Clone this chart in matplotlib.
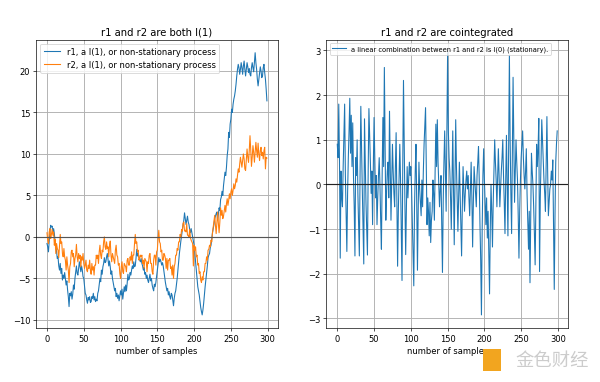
import matplotlib.pyplot as plt
from matplotlib.patches import Rectangle

# values (300 samples each)
r1 = [
    -0.8, -1.2, -1.8, -0.5, 0.6, 1.4, 1.2, 1.3, 0.6, 1.0, 0.4, -0.6, -1.0, -1.8, -2.6, -2.4, -3.5, -4.0, -3.2, -4.4,
    -3.8, -5.2, -4.6, -5.0, -4.3, -5.0, -5.8, -5.3, -6.4, -7.2, -8.4, -6.8, -7.1, -6.6, -7.5, -6.9, -5.8, -6.3, -5.0, -4.2,
    -3.5, -4.4, -4.6, -3.8, -3.0, -3.6, -4.2, -3.5, -4.0, -4.8, -5.0, -5.9, -6.8, -7.0, -7.6, -8.0, -7.3, -7.6, -7.2, -7.9,
    -7.8, -7.2, -7.4, -6.8, -7.6, -7.2, -7.8, -7.5, -7.7, -6.8, -6.5, -5.8, -5.0, -5.4, -4.0, -4.5, -3.6, -3.2, -2.5, -3.1,
    -3.0, -2.4, -2.0, -2.8, -3.5, -2.9, -3.6, -4.5, -4.1, -5.0, -5.5, -6.0, -6.5, -6.2, -7.2, -6.8, -7.4, -7.0, -7.7, -7.1,
    -6.5, -7.0, -6.3, -7.5, -6.8, -6.0, -6.6, -5.8, -6.5, -5.6, -4.5, -5.2, -5.0, -4.3, -4.6, -4.0, -3.5, -3.8, -3.0, -3.6,
    -3.5, -2.6, -1.5, -2.3, -2.0, -2.4, -2.8, -3.0, -2.6, -3.2, -3.5, -4.0, -3.7, -4.5, -4.3, -5.0, -4.6, -5.2, -5.5, -5.0,
    -4.5, -5.3, -5.0, -5.8, -6.2, -6.5, -5.7, -6.0, -5.5, -4.8, -4.0, -3.3, -2.5, -3.0, -2.7, -3.0, -3.4, -3.1, -3.5, -4.2,
    -5.0, -5.5, -6.0, -6.5, -6.2, -7.0, -6.6, -7.2, -7.5, -6.8, -7.0, -7.6, -8.3, -7.4, -6.8, -6.5, -5.8, -5.0, -4.0, -3.0,
    -2.0, -1.2, -0.5, 0.2, 0.8, 1.5, 2.0, 2.9, 2.2, 1.5, 2.0, 2.5, 1.8, 1.5, 0.9, 0.5, 1.0, 0.5, 0.0, -0.5,
    -1.0, -2.0, -3.0, -4.0, -5.0, -6.0, -6.5, -7.0, -7.8, -8.5, -9.0, -9.4, -8.8, -8.0, -7.0, -6.0, -5.2, -4.5, -3.5, -2.5,
    -2.2, -2.0, -1.3, -1.0, -0.2, 0.5, 1.0, 1.5, 2.2, 2.5, 2.8, 3.0, 2.0, 2.7, 3.5, 3.2, 4.5, 4.8, 5.5, 5.0,
    6.2, 7.0, 7.8, 7.4, 8.4, 9.8, 10.6, 12.6, 12.0, 13.6, 14.2, 15.4, 15.0, 16.0, 16.6, 17.0, 17.6, 18.4, 19.4, 20.2,
    20.8, 20.4, 19.6, 20.2, 21.0, 20.4, 19.6, 20.6, 21.2, 20.2, 19.4, 20.2, 21.0, 20.5, 19.8, 20.3, 19.6, 19.4, 20.4, 21.0,
    20.4, 19.9, 21.0, 22.2, 21.0, 20.2, 19.0, 18.2, 19.0, 19.8, 20.5, 20.0, 19.2, 19.4, 20.4, 20.8, 19.8, 19.0, 17.8, 16.4,
]

r2 = [
    0.5, -0.4, -0.8, 0.6, 1.0, -0.2, 0.3, 0.9, 0.2, 0.6, -1.0, -0.3, -2.0, -0.8, -1.4, -1.6, -2.5, -1.0, 0.3, -0.8,
    -0.6, -2.0, -2.4, -1.4, -2.4, -2.8, -4.0, -2.4, -3.4, -4.0, -5.5, -3.6, -3.2, -1.8, -1.6, -2.4, -2.0, -3.6, -2.6, -2.2,
    -0.9, -2.4, -3.0, -2.0, -2.6, -2.2, -3.6, -2.4, -2.8, -2.0, -3.2, -3.8, -3.4, -2.8, -4.0, -4.2, -3.4, -3.8, -2.8, -4.0,
    -4.5, -3.2, -4.0, -3.6, -4.6, -3.4, -3.4, -2.2, -2.6, -2.2, -3.2, -1.8, -1.0, -2.2, -2.6, -1.6, -1.8, -0.6, 0.0, -1.2,
    -1.5, -0.6, -1.4, -1.2, -2.4, -1.0, -0.5, -2.2, -3.0, -2.0, -2.4, -2.8, -3.2, -1.6, -1.0, -2.2, -2.4, -3.4, -3.2, -4.4,
    -5.0, -3.6, -3.0, -4.2, -4.4, -3.2, -3.4, -3.6, -4.2, -2.8, -2.6, -3.4, -3.4, -2.4, -2.8, -1.8, -3.2, -2.2, -2.2, -0.8,
    0.3, -0.8, -0.6, -1.8, -1.6, -2.8, -2.6, -2.2, -2.4, -2.2, -3.2, -2.8, -3.8, -2.6, -2.8, -3.0, -4.2, -3.0, -3.2, -2.2,
    -2.0, -3.2, -3.2, -4.2, -4.5, -2.8, -2.2, -2.2, -3.4, -1.8, -1.6, -0.2, 0.8, -0.6, -0.8, -1.8, -1.6, -2.8, -2.8, -2.0,
    -2.2, -2.6, -3.8, -2.6, -4.0, -2.8, -2.8, -2.6, -3.8, -3.6, -4.6, -3.4, -5.0, -3.6, -3.2, -2.2, -2.2, -1.4, -1.6, -0.6,
    -0.6, 0.3, 0.0, 0.9, 0.7, 1.6, 1.8, 0.7, 0.8, 0.6, 1.6, 0.2, 0.2, 0.0, 0.9, -0.1, -0.4, -0.6, -0.8, -3.5,
    -1.0, -1.6, -1.2, -2.4, -2.2, -3.4, -3.2, -4.4, -4.2, -5.2, -5.5, -4.8, -5.2, -4.2, -4.2, -3.2, -3.2, -2.4, -2.8, -1.6,
    -1.5, -1.0, -1.2, -0.4, -0.6, 0.5, 1.2, 1.8, 2.6, 1.4, 0.4, 1.8, 3.0, 1.6, 0.5, 1.8, 3.5, 2.6, 3.2, 2.2,
    2.5, 3.2, 3.8, 3.0, 4.0, 4.6, 3.8, 4.4, 5.2, 4.6, 5.4, 5.8, 5.0, 5.6, 6.4, 5.8, 6.2, 7.0, 6.6, 7.4,
    8.2, 7.8, 8.8, 9.6, 9.0, 8.4, 9.2, 10.0, 9.4, 8.2, 8.0, 9.4, 10.6, 9.6, 9.0, 10.4, 12.2, 10.5, 8.5, 9.6,
    11.0, 10.2, 9.0, 10.2, 11.4, 10.4, 9.6, 11.3, 10.0, 9.2, 10.4, 10.8, 9.8, 10.2, 9.4, 10.4, 10.8, 8.2, 9.6, 9.5,
]

combo = [
    0.9, 0.6, 1.8, 0.5, -1.65, 0.3, -0.3, -0.5, 0.4, 1.1, 1.8, 0.2, -0.6, -1.5, -0.2, 0.6, 1.2, 1.93, 0.7, 1.55,
    0.4, 1.38, 0.2, -0.5, -1.6, 0.6, 0.2, 1.0, -0.2, -0.9, -1.6, 0.3, 1.75, 0.8, -0.1, -0.9, -1.78, 1.47, 0.5, -0.4,
    -1.0, -1.58, 0.3, 1.7, 1.1, 0.5, -0.2, 0.3, -0.9, 0.4, 1.5, 0.6, -0.3, 0.2, -0.9, -0.3, 0.2, 0.6, 0.0, -0.8,
    -1.45, 0.2, 1.5, 0.4, 2.62, 0.9, -0.8, -0.2, 0.3, 0.5, -0.3, 1.64, 0.5, -0.8, 0.1, 0.9, 0.3, -0.2, -0.5, 0.4,
    1.16, -0.3, -1.83, -0.6, 0.2, 0.9, 0.1, -1.0, -2.15, 0.4, 2.33, 0.8, -0.5, -1.57, -0.5, 0.4, -0.3, 0.1, 0.5, 0.2,
    0.4, -0.1, -0.8, -1.4, -2.27, -0.5, 0.3, 0.9, -0.4, -1.92, -0.6, 0.5, -0.1, -0.4, -0.7, 0.1, -0.5, 0.3, 0.9, 1.3,
    1.72, 0.4, -0.9, -0.3, -0.6, -1.15, -0.4, -1.3, -0.8, -0.6, 0.1, -0.2, -0.8, 0.3, 1.35, 0.4, 1.45, 0.5, 0.0, -0.5,
    -0.1, 0.2, -0.9, -1.97, -0.4, 0.5, 1.2, 0.3, -0.6, 1.1, 2.95, 1.2, 0.6, 0.3, -0.3, -1.0, 0.1, 1.2, 0.0, -1.35,
    0.1, 1.45, 0.4, -0.3, -1.05, -0.3, 0.5, -0.2, -0.8, -1.6, -0.5, 0.4, -0.1, -0.6, -0.2, 0.1, 0.3, -0.1, 0.2, -0.3,
    -0.7, -0.1, 0.5, -0.3, -1.4, -0.4, 0.4, 0.1, -0.2, -0.5, 0.2, 0.5, 0.85, 0.1, -0.9, -1.7, -2.92, -1.0, 0.2, 0.8,
    0.1, -0.4, -0.9, -0.3, -1.2, -0.6, -1.5, -2.45, -1.0, 0.0, -0.6, -1.4, -0.4, 0.3, 1.0, 0.5, 0.1, -0.5, 0.2, 0.8,
    0.2, -0.5, -0.1, 0.3, 0.6, 1.0, 0.2, -0.4, -1.1, 0.1, 1.1, 0.0, -1.15, 0.8, 2.9, 1.0, -0.2, -1.1, 0.7, 2.4,
    0.9, -0.4, 0.3, 1.0, 0.5, 0.1, -0.7, -1.65, -0.6, 0.1, 0.6, 0.9, 1.2, 0.6, 0.2, -0.1, 0.3, 0.8, -0.2, -0.8,
    -1.45, -0.6, -2.2, -0.7, 0.7, 0.3, 0.0, -0.5, -1.1, -1.8, -0.4, 0.9, 0.4, 0.8, 1.48, -1.95, -0.3, 0.5, 1.45, 1.0,
    0.6, 0.1, -0.2, -0.6, 0.5, 1.52, 0.3, -0.7, -0.4, -0.1, 0.0, 0.3, 0.1, 0.55, -0.8, -2.35, -0.7, 0.5, 0.9, 1.2,
]

samples = list(range(len(r1)))

fig, (ax1, ax2) = plt.subplots(1, 2, figsize=(10, 6.383), dpi=60)
fig.subplots_adjust(left=0.06, right=0.947, bottom=0.141, top=0.894, wspace=0.2)

# left: the two random walks
ax1.plot(samples, r1, label='r1, a I(1), or non-stationary process', color='C0', linewidth=1.3)
ax1.plot(samples, r2, label='r2, a I(1), or non-stationary process', color='C1', linewidth=1.3)
ax1.axhline(0, color='#555555', linewidth=1.4)
ax1.set_title('r1 and r2 are both I(1)')
ax1.set_xlabel('number of samples')
ax1.legend(loc='upper left')
ax1.grid(linewidth=1.1)

# right: stationary combination
ax2.plot(samples, combo, label='a linear combination between r1 and r2 is I(0) (stationary).',
         color='C0', linewidth=1.3)
ax2.axhline(0, color='#222222', linewidth=1.4)
ax2.set_title('r1 and r2 are cointegrated')
ax2.set_xlabel('number of samples')
ax2.legend(loc='upper left', fontsize=8)
ax2.grid(linewidth=1.1)

# watermark in the bottom right corner
fig.patches.append(Rectangle((0.805, 0.03), 0.03, 0.055, transform=fig.transFigure,
                             facecolor='#f2a51f', edgecolor='none'))
fig.text(0.982, 0.058, '金色财经', ha='right', va='center', fontsize=22, color='#cccccc',
         family=['Noto Sans CJK SC', 'DejaVu Sans'])

fig.savefig('out.png', dpi=60)
